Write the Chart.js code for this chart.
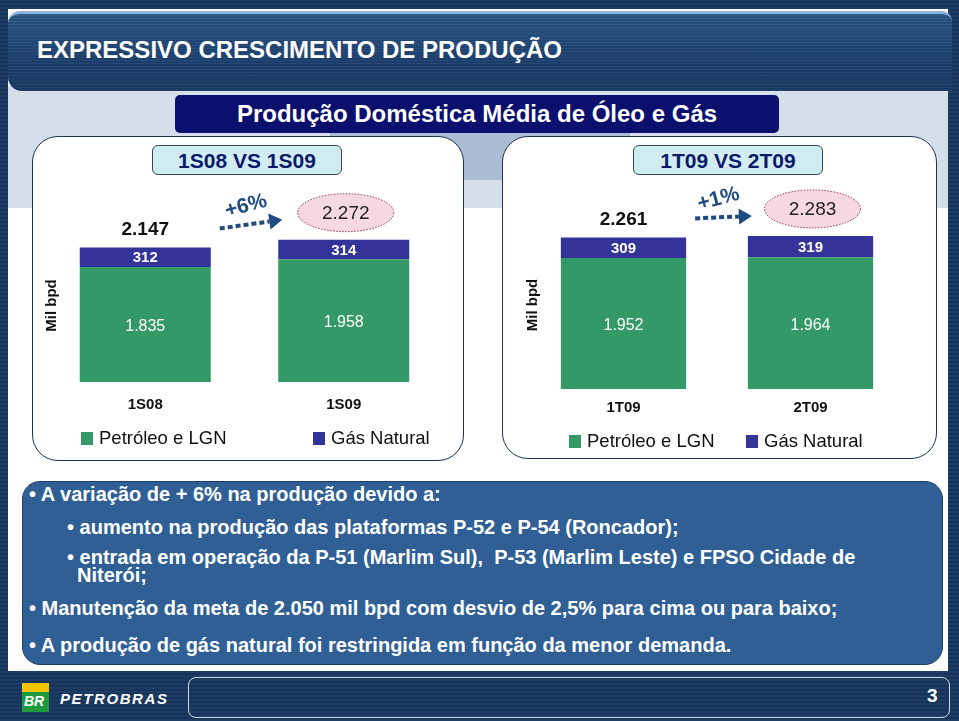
<!DOCTYPE html>
<html>
<head>
<meta charset="utf-8">
<script src="https://cdn.jsdelivr.net/npm/chart.js@4.4.1/dist/chart.umd.min.js"></script>
<style>
  html, body { margin: 0; padding: 0; }
  body {
    width: 959px; height: 721px; overflow: hidden; position: relative;
    font-family: "Liberation Sans", Arial, sans-serif;
    background: repeating-linear-gradient(0deg, #1d3d64 0 2px, #163459 2px 4px);
  }
  .abs { position: absolute; }
  #page { left: 8px; top: 9px; width: 940px; height: 662px; background: #ffffff; }
  #lightband { left: 8px; top: 86px; width: 940px; height: 122px; background: #d4dfeb; }
  #darkband { left: 330px; top: 118px; width: 300px; height: 62px; background: #aabdd5; }
  #titleband {
    left: 8px; top: 11px; width: 944px; height: 77px; border-radius: 12px 10px 0 14px;
    border-top: 3px solid #8fb2d8;
    background: repeating-linear-gradient(0deg, rgba(255,255,255,0.04) 0 1px, rgba(0,0,0,0.05) 1px 3px),
                linear-gradient(180deg, #2d5887 0%, #1d4170 60%, #1a3b66 100%);
  }
  #title { left: 37px; top: 36px; color: #fff; font-size: 24px; font-weight: bold; white-space: nowrap; }
  #subtitle {
    left: 175px; top: 95px; width: 604px; height: 38px; background: #0b0f6e; border-radius: 5px;
    color: #fff; font-size: 24px; font-weight: bold; text-align: center; line-height: 38px;
  }
  .panel { border: 1.5px solid #1f3552; border-radius: 26px; background: #fff; }
  .hdr {
    height: 28px; background: #d2edf1; border: 1.5px solid #2b4766; border-radius: 6px;
    color: #0b1a6b; font-size: 21px; font-weight: bold; text-align: center; line-height: 29px;
  }
  .legitem { position: absolute; font-size: 18.5px; color: #111; white-space: nowrap; line-height: 20px; }
  .legitem i { display: inline-block; width: 12px; height: 13px; margin-right: 6px; vertical-align: -1px; }
  #notes {
    left: 22px; top: 481px; width: 919px; height: 182px; background: #2f5f95;
    border: 1.5px solid #1c3d66; border-radius: 18px;
  }
  .note { position: absolute; color: #fff; font-size: 20px; font-weight: bold; white-space: nowrap; line-height: 23px; }
  #footbox { left: 188px; top: 677px; width: 760px; height: 39px; border: 1.5px solid #c9d7e6; border-radius: 8px; }
  #pagenum { left: 927px; top: 685px; color: #fff; font-size: 19px; font-weight: bold; }
  #logo { left: 22px; top: 683px; width: 27px; height: 29px; background: #1c9a3c; }
  #logo .y { position: absolute; left: 0; top: 0; width: 27px; height: 9px; background: #f4c400; }
  #logo .t { position: absolute; left: 2px; top: 10px; color: #fff; font-size: 14px; font-weight: bold; font-style: italic; }
  #brand { left: 60px; top: 690px; color: #fff; font-size: 15px; font-weight: bold; font-style: italic; letter-spacing: 1.6px; }
</style>
</head>
<body>
<div id="page" class="abs"></div>
<div id="lightband" class="abs"></div>
<div id="darkband" class="abs"></div>
<div id="titleband" class="abs"></div>
<div id="title" class="abs">EXPRESSIVO CRESCIMENTO DE PRODUÇÃO</div>

<div class="abs panel" style="left:32px;top:136px;width:430px;height:323px;"></div>
<div class="abs panel" style="left:502px;top:136px;width:433px;height:321px;"></div>

<div id="subtitle" class="abs">Produção Doméstica Média de Óleo e Gás</div>

<div class="abs" style="left:32px;top:137px;width:431px;height:305px;"><canvas id="chartA"></canvas></div>
<div class="abs" style="left:502px;top:137px;width:433px;height:301px;"><canvas id="chartB"></canvas></div>

<div class="abs hdr" style="left:152px;top:145px;width:188px;">1S08 VS 1S09</div>
<div class="abs hdr" style="left:633px;top:145px;width:188px;">1T09 VS 2T09</div>

<div id="legendA"></div>
<div id="legendB"></div>

<div id="notes" class="abs"></div>
<div class="note" style="left:29px;top:483px;">• A variação de + 6% na produção devido a:</div>
<div class="note" style="left:67px;top:516px;">• aumento na produção das plataformas P-52 e P-54 (Roncador);</div>
<div class="note" style="left:67px;top:546px;">• entrada em operação da P-51 (Marlim Sul),&nbsp; P-53 (Marlim Leste) e FPSO Cidade de</div>
<div class="note" style="left:77px;top:564px;">Niterói;</div>
<div class="note" style="left:29px;top:597px;">• Manutenção da meta de 2.050 mil bpd com desvio de 2,5% para cima ou para baixo;</div>
<div class="note" style="left:29px;top:634px;">• A produção de gás natural foi restringida em função da menor demanda.</div>

<div id="footbox" class="abs"></div>
<div id="logo" class="abs"><div class="y"></div><div class="t">BR</div></div>
<div id="brand" class="abs">PETROBRAS</div>
<div id="pagenum" class="abs">3</div>

<script>
// semester comparison
var periodsA = ['1S08', '1S09'];
var oilA = [1835, 1958];
var gasA = [312, 314];
// quarter comparison
var periodsB = ['1T09', '2T09'];
var oilB = [1952, 1964];
var gasB = [309, 319];

var seriesNames = ['Petróleo e LGN', 'Gás Natural'];
var changeA = '+6%';
var changeB = '+1%';
var unitLabel = 'Mil bpd';

var GREEN = '#339966';
var NAVY = '#333399';
var FONT = "'Liberation Sans', Arial, sans-serif";

function fmt(n) {
    return String(n).replace(/\B(?=(\d{3})+(?!\d))/g, '.');
}

var slideLabels = {
    id: 'slideLabels',
    afterDatasetsDraw: function(chart, args, opts) {
        var ctx = chart.ctx;
        var oil = chart.getDatasetMeta(0).data;
        var gas = chart.getDatasetMeta(1).data;
        var y = chart.scales.y;
        ctx.save();
        ctx.textAlign = 'center';
        ctx.textBaseline = 'middle';

        // values inside the segments
        oil.forEach(function(bar, i) {
            ctx.fillStyle = '#ffffff';
            ctx.font = '16px ' + FONT;
            ctx.fillText(fmt(chart.data.datasets[0].data[i]), bar.x, (bar.y + bar.base) / 2 + 2);
            var g = gas[i];
            ctx.font = 'bold 15px ' + FONT;
            ctx.fillText(fmt(chart.data.datasets[1].data[i]), g.x, (g.y + g.base) / 2 + 1);
        });

        // totals
        var totals = chart.data.labels.map(function(_, i) {
            return chart.data.datasets[0].data[i] + chart.data.datasets[1].data[i];
        });
        var top0 = y.getPixelForValue(totals[0]);
        var top1 = y.getPixelForValue(totals[1]);
        ctx.fillStyle = '#111111';
        ctx.font = 'bold 19px ' + FONT;
        ctx.fillText(fmt(totals[0]), oil[0].x, top0 - 18);

        var ex = gas[1].x + 2, ey = top1 - 27;
        ctx.beginPath();
        ctx.ellipse(ex, ey, 48, 19, 0, 0, Math.PI * 2);
        ctx.fillStyle = '#f5d8e2';
        ctx.fill();
        ctx.setLineDash([1.5, 1.5]);
        ctx.strokeStyle = '#9b2a48';
        ctx.lineWidth = 1;
        ctx.stroke();
        ctx.setLineDash([]);
        ctx.fillStyle = '#222222';
        ctx.font = '19px ' + FONT;
        ctx.fillText(fmt(totals[1]), ex, ey + 1);

        // dotted growth arrow
        var x0 = oil[0].x + oil[0].width / 2 + 9;
        var x1 = oil[1].x - oil[1].width / 2 + 4;
        var y0 = top0 - 19, y1 = top1 - 20;
        var ang = Math.atan2(y1 - y0, x1 - x0);
        var hx = x1 - 13 * Math.cos(ang), hy = y1 - 13 * Math.sin(ang);
        ctx.strokeStyle = '#1f4a82';
        ctx.fillStyle = '#1f4a82';
        ctx.lineWidth = 4;
        ctx.setLineDash([5, 3]);
        ctx.beginPath();
        ctx.moveTo(x0, y0);
        ctx.lineTo(hx, hy);
        ctx.stroke();
        ctx.setLineDash([]);
        ctx.beginPath();
        ctx.moveTo(x1, y1);
        ctx.lineTo(hx - 8 * Math.sin(ang), hy + 8 * Math.cos(ang));
        ctx.lineTo(hx + 8 * Math.sin(ang), hy - 8 * Math.cos(ang));
        ctx.closePath();
        ctx.fill();

        ctx.save();
        ctx.translate((x0 + x1) / 2 - 5, (y0 + y1) / 2 - 18);
        ctx.rotate(-0.26);
        ctx.font = 'bold 21px ' + FONT;
        ctx.fillText(opts.change, 0, 0);
        ctx.restore();

        // unit title
        ctx.save();
        ctx.translate(opts.unitX, (chart.chartArea.top + chart.chartArea.bottom) / 2 + 30);
        ctx.rotate(-Math.PI / 2);
        ctx.fillStyle = '#111111';
        ctx.font = 'bold 15px ' + FONT;
        ctx.fillText(unitLabel, 0, 0);
        ctx.restore();

        ctx.restore();
    }
};

function makeChart(id, labels, oil, gas, opt) {
    return new Chart(document.getElementById(id).getContext('2d'), {
        type: 'bar',
        data: {
            labels: labels,
            datasets: [
                { label: seriesNames[0], data: oil, backgroundColor: GREEN, borderWidth: 0 },
                { label: seriesNames[1], data: gas, backgroundColor: NAVY, borderWidth: 0 }
            ]
        },
        options: {
            responsive: true,
            maintainAspectRatio: false,
            animation: false,
            layout: { padding: opt.padding },
            datasets: { bar: { barPercentage: opt.barPct, categoryPercentage: 1 } },
            plugins: {
                legend: { display: false },
                tooltip: { enabled: false },
                slideLabels: { change: opt.change, unitX: opt.unitX }
            },
            scales: {
                x: {
                    stacked: true,
                    grid: { display: false, drawTicks: false },
                    border: { display: false },
                    ticks: { color: '#111', padding: opt.tickPad, font: { family: FONT, size: 15, weight: 'bold' } }
                },
                y: { stacked: true, display: false, min: 0, max: 3400 }
            }
        },
        plugins: [slideLabels]
    });
}

var chartA = makeChart('chartA', periodsA, oilA, gasA, {
    padding: { left: 14, right: 20, top: 32, bottom: 14 },
    barPct: 0.66, tickPad: 14, change: changeA, unitX: 20
});
var chartB = makeChart('chartB', periodsB, oilB, gasB, {
    padding: { left: 28, right: 31, top: 24, bottom: 11 },
    barPct: 0.67, tickPad: 10, change: changeB, unitX: 31
});

function buildLegend(chart, elId, xs, top) {
    var el = document.getElementById(elId);
    chart.data.datasets.forEach(function(ds, i) {
        var item = document.createElement('div');
        item.className = 'legitem';
        item.style.left = xs[i] + 'px';
        item.style.top = top + 'px';
        item.innerHTML = '<i style="background:' + ds.backgroundColor + '"></i>' + ds.label;
        el.appendChild(item);
    });
}
buildLegend(chartA, 'legendA', [81, 313], 428);
buildLegend(chartB, 'legendB', [569, 746], 431);
</script>
</body>
</html>
